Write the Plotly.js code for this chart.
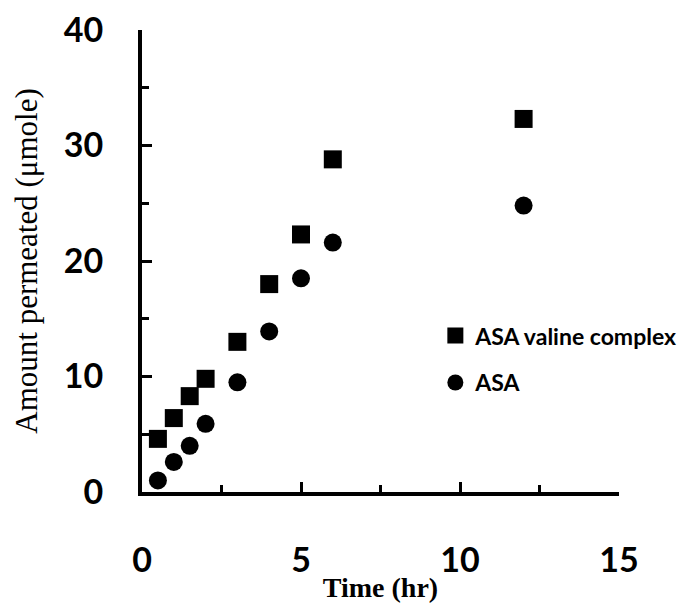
<!DOCTYPE html>
<html>
<head>
<meta charset="utf-8">
<script src="https://cdn.plot.ly/plotly-3.0.1.min.js"></script>
<style>html,body{margin:0;padding:0;background:#fff;}#chart{width:684px;height:603px;}</style>
</head>
<body>
<div id="chart"></div>
<script>
const timeHr = [0.5, 1, 1.5, 2, 3, 4, 5, 6, 12];
const asaValineComplex = [4.6, 6.4, 8.3, 9.8, 13.0, 18.0, 22.3, 28.8, 32.3];
const asa = [1.0, 2.6, 4.0, 5.9, 9.5, 13.9, 18.5, 21.6, 24.8];
const seriesNames = ["ASA valine complex", "ASA"];

const traces = [
  {x: timeHr, y: asaValineComplex, name: seriesNames[0], legendgroup: 'g1', type: 'scatter', mode: 'markers',
   marker: {symbol: 'square', size: 18, color: '#000'}},
  {x: timeHr, y: asa, name: seriesNames[1], legendgroup: 'g2', type: 'scatter', mode: 'markers',
   marker: {symbol: 'circle', size: 18, color: '#000'}}
];

const tickFont = {family: 'Lato, "Open Sans", sans-serif', size: 34, color: '#000', weight: 'bold'};

const layout = {
  width: 684, height: 603,
  margin: {l: 142, r: 65, t: 30, b: 111, autoexpand: false},
  paper_bgcolor: '#fff', plot_bgcolor: '#fff',
  showlegend: true,
  legend: {x: 0.615, y: 0.385, xanchor: 'left', yanchor: 'top',
           font: {family: 'Lato, "Open Sans", sans-serif', size: 23, color: '#000', weight: 'bold'},
           traceorder: 'grouped', tracegroupgap: 14, bgcolor: 'rgba(0,0,0,0)'},
  xaxis: {
    range: [0, 15], dtick: 5, tick0: 0,
    showgrid: false, zeroline: false,
    showline: true, linecolor: '#000', linewidth: 4,
    ticks: 'inside', ticklen: 10, tickwidth: 3, tickcolor: '#000',
    minor: {dtick: 2.5, ticks: 'inside', ticklen: 7, tickwidth: 3, tickcolor: '#000', showgrid: false},
    tickfont: tickFont, ticklabelstandoff: 35,
    title: {text: 'Time (hr)', font: {family: '"Liberation Serif", "Times New Roman", serif', size: 28, color: '#000', weight: 'bold'}, standoff: 2}
  },
  yaxis: {
    range: [0, 40], dtick: 10, tick0: 0,
    showgrid: false, zeroline: false,
    showline: true, linecolor: '#000', linewidth: 4,
    ticks: 'inside', ticklen: 10, tickwidth: 3, tickcolor: '#000',
    minor: {dtick: 5, ticks: 'inside', ticklen: 7, tickwidth: 3, tickcolor: '#000', showgrid: false},
    tickfont: tickFont, ticklabelstandoff: 28,
    title: {text: 'Amount permeated (μmole)', font: {family: '"Liberation Serif", "Times New Roman", serif', size: 31, color: '#000'}, standoff: 18}
  }
};

Plotly.newPlot('chart', traces, layout, {displayModeBar: false, staticPlot: true});
</script>
</body>
</html>
